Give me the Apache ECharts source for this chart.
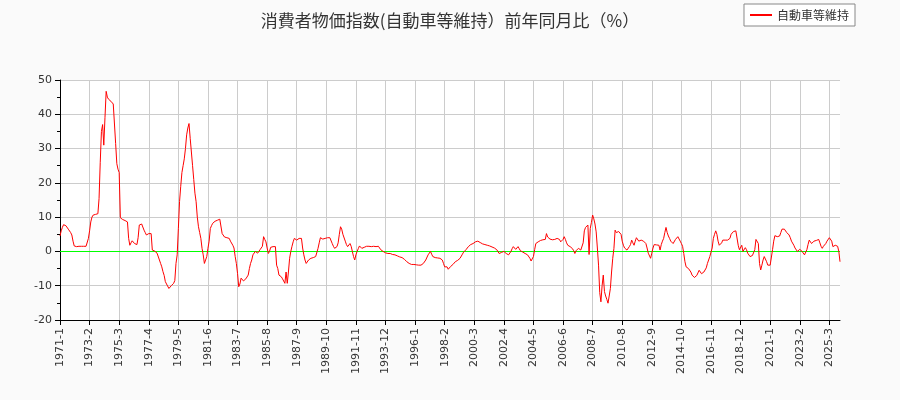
<!DOCTYPE html>
<html><head><meta charset="utf-8">
<script src="https://cdn.jsdelivr.net/npm/echarts@6/dist/echarts.min.js"></script>
<style>body{margin:0;background:#fafafa}#c{width:900px;height:400px}</style>
</head><body><div id="c"></div>
<script>
const title = '消費者物価指数(自動車等維持）前年同月比（%）';
const seriesName = '自動車等維持';
const startYear = 1971;
const yTicks = [-20, -10, 0, 10, 20, 30, 40, 50];
const v1971 = [4.5,6,7,7.8,8,7.5,7,6.5,6,5.5,4.8,3];
const v1972 = [1.6,1.5,1.4,1.4,1.5,1.4,1.5,1.4,1.5,1.4,1.5,1.4];
const v1973 = [3.8,6,8.6,10,10.6,10.6,10.8,11,11,15.4,26,35];
const v1974 = [37,31,39,46.7,45,44.4,44,43.8,43.5,43,42.6,31.5];
const v1975 = [25.6,24,23,9.8,9.5,9.3,9.1,9,8.8,8.6,3.8,1.8];
const v1976 = [2.5,3.1,2.8,2.3,2,2,4,7.7,8,8,8,6.2];
const v1977 = [5.5,4.8,5,5.2,5.2,5.2,0.4,0.2,0.1,0,-0.5,-1];
const v1978 = [-2.5,-3.5,-4.5,-5.9,-7,-8.8,-9.5,-10,-10.8,-10.5,-10,-9.5];
const v1979 = [-9.3,-8.5,-3.5,-1,6.7,14.5,19,23,25,27,30,34];
const v1980 = [36,37.3,33,29,25,21,17,14.5,10,7.2,5.5,3.8];
const v1981 = [0.9,-1,-3.5,-3.5,-1.5,0.9,3,6.7,7.5,8.2,8.5,8.8];
const v1982 = [9,9.1,9.3,9.4,9.4,5.2,4.8,4.2,4,4,3.8,3.8];
const v1983 = [3,2.5,1.8,1,-1.5,-3.5,-6.4,-10.3,-9.5,-7.8,-8.2,-8.6];
const v1984 = [-8.6,-8,-7.5,-6.9,-5,-3.5,-2.5,-1,-1,0,-0.5,-0.5];
const v1985 = [0,0.5,0.9,1.5,4.3,3.5,2.8,1,-0.6,0,1.2,1.3];
const v1986 = [1.4,1.4,1.4,-4,-5,-6.9,-7,-7.4,-8,-8.5,-9.3,-6];
const v1987 = [-9.3,-6,-2,0,1.5,2.8,3.8,3.5,3.3,3.5,3.8,3.8];
const v1988 = [3.8,1,-1,-2.5,-3.5,-3,-2.5,-2.2,-2,-2,-1.8,-1.5];
const v1989 = [-1.5,-1,0.9,2.5,4,3.8,3.6,3.6,3.8,4,4,3.8];
const v1990 = [4,3.5,2.3,1.5,0.9,1.2,1.4,2.5,5,7.2,6.5,5];
const v1991 = [4.8,3,2,1.4,1.5,2.3,1.5,0,-1.5,-2.5,-1,0];
const v1992 = [0.8,1.6,1.2,0.9,0.9,1.2,1.4,1.5,1.6,1.5,1.5,1.4];
const v1993 = [1.5,1.5,1.4,1.4,1.5,1.5,1,0.5,0,0,-0.2,-0.4];
const v1994 = [-0.5,-0.6,-0.6,-0.6,-0.8,-0.9,-1,-1,-1.1,-1.3,-1.5,-1.6];
const v1995 = [-1.7,-1.8,-2,-2.3,-2.6,-3,-3.3,-3.5,-3.7,-3.8,-3.8,-3.8];
const v1996 = [-3.8,-3.9,-4,-4,-4,-4,-3.8,-3.5,-3,-2.5,-2,-1];
const v1997 = [-0.5,0,-0.8,-1.5,-1.6,-1.8,-1.8,-1.9,-2,-2,-2,-2.5];
const v1998 = [-3.5,-4.5,-4,-4.5,-5.2,-4.8,-4.4,-4,-3.8,-3.5,-3,-2.8];
const v1999 = [-2.6,-2.5,-2,-1.5,-0.8,-0.2,0,0.5,1,1.4,1.8,2];
const v2000 = [2.2,2.3,2.3,2.8,3,3,2.8,2.6,2.4,2.2,2,2];
const v2001 = [1.9,1.8,1.7,1.6,1.5,1.3,1.1,1,0.9,0.5,0,-0.6];
const v2002 = [-0.6,-0.3,-0.2,0,-0.3,-0.6,-0.8,-1,-0.5,0,0.8,1.4];
const v2003 = [1,0.6,0.5,1.4,0.8,0.2,-0.3,-0.2,-0.3,-0.6,-0.8,-1];
const v2004 = [-1.5,-2,-2.8,-2.6,-1.5,0.5,2.3,2.6,2.8,3.1,3.2,3.3];
const v2005 = [3.4,3.5,3.5,5.2,4.2,3.8,3.6,3.5,3.4,3.3,3.5,3.6];
const v2006 = [3.8,4,3.5,2.8,2.5,3.5,4.3,3.5,2.5,1.8,1.5,1.4];
const v2007 = [1.4,0.8,0.2,-0.6,0.2,0.5,0.9,0.6,0.4,0.4,2.5,6];
const v2008 = [7,7.3,7.7,-0.9,6.7,8.5,10.6,9.5,8,5.7,1,-4];
const v2009 = [-12,-14.7,-10,-6.9,-11.7,-13,-14,-15.1,-13,-10.8,-6,-2];
const v2010 = [0.9,6.2,5.5,5.2,5.8,6.2,5,3,1.8,1,0.6,0.4];
const v2011 = [0.8,1.4,2,3.3,2.5,1.8,3,4,3.5,3,2.8,3.3];
const v2012 = [3.2,3,2.6,2.3,1,-0.5,-1,-2,-0.5,1,2,2];
const v2013 = [1.9,1.8,1.8,0.4,2,3,3.8,5.5,7,5.5,4.5,3.8];
const v2014 = [3,2.5,2.3,2.8,3.5,3.8,4.3,3.8,3,2.3,1.5,-0.6];
const v2015 = [-3,-4.5,-4.8,-5,-5.5,-6,-6.9,-7.3,-7.6,-7.9,-7,-6.5];
const v2016 = [-5.5,-6,-6.5,-6.7,-6,-5.5,-4.8,-3.5,-2.5,-1.5,-1,1];
const v2017 = [3.8,5,6,5,3,1.8,2,2.5,3.3,3,3.3,3.5];
const v2018 = [3.3,3,3.8,5,5.2,5.8,6,6,5.5,1.8,0.5,0];
const v2019 = [1.8,0,0.5,1.1,0.5,-0.5,-1,-1.5,-1,-1.2,-1,0.5];
const v2020 = [3.5,3,2.3,-3.5,-5.4,-4,-2.5,-1.5,-1.5,-3,-4,-4];
const v2021 = [-4,-4,0.5,3,4.6,4.4,4.3,4.3,4.5,5.5,6.5,7];
const v2022 = [6.5,6,5.5,5,4.8,4,3,2.5,1.8,1,0.5,0];
const v2023 = [0.3,0.6,0.9,0,-0.5,-1,-0.5,0.5,2,3.3,3,2.3];
const v2024 = [2.5,3,3.3,3.2,3.4,3.5,2.5,1.5,0.9,1.5,2,2.3];
const v2025 = [3,3.5,4,3.8,3,1.4,1.6,1.8,1.8,1.5,0,-3];

const years = [v1971,v1972,v1973,v1974,v1975,v1976,v1977,v1978,v1979,v1980,v1981,v1982,v1983,v1984,v1985,v1986,v1987,v1988,v1989,v1990,v1991,v1992,v1993,v1994,v1995,v1996,v1997,v1998,v1999,v2000,v2001,v2002,v2003,v2004,v2005,v2006,v2007,v2008,v2009,v2010,v2011,v2012,v2013,v2014,v2015,v2016,v2017,v2018,v2019,v2020,v2021,v2022,v2023,v2024,v2025];
const categories = [], values = [];
years.forEach((arr, yi) => arr.forEach((v, mi) => { categories.push((startYear + yi) + '-' + (mi + 1)); values.push(v); }));

const chart = echarts.init(document.getElementById('c'));
chart.setOption({
  backgroundColor: '#fafafa',
  animation: false,
  title: { text: title, left: 'center', top: 7, textStyle: { fontSize: 17, fontWeight: 'normal', color: '#333', fontFamily: 'Noto Sans CJK JP' } },
  legend: { right: 45, top: 4, data: [seriesName], backgroundColor: '#fff', borderColor: '#888', borderWidth: 1, borderRadius: 0, padding: [5, 6], itemWidth: 22, itemHeight: 2, icon: 'rect', textStyle: { fontSize: 12, color: '#333', fontFamily: 'Noto Sans CJK JP' } },
  grid: { left: 60, right: 60, top: 80, bottom: 80, show: true, backgroundColor: '#fff', borderWidth: 0 },
  xAxis: { type: 'category', data: categories, boundaryGap: false,
    axisLine: { onZero: false, lineStyle: { color: '#000' } },
    axisTick: { interval: 24, lineStyle: { color: '#000' } },
    axisLabel: { interval: 24, rotate: 90, fontSize: 11, color: '#333', fontFamily: 'DejaVu Sans' },
    splitLine: { show: true, interval: 24, lineStyle: { color: '#ccc' } } },
  yAxis: { type: 'value', min: yTicks[0], max: yTicks[yTicks.length - 1], interval: 10,
    axisLine: { show: true, lineStyle: { color: '#000' } }, axisTick: { show: true },
    minorTick: { show: true, splitNumber: 2 },
    axisLabel: { fontSize: 11, color: '#333', fontFamily: 'DejaVu Sans' },
    splitLine: { lineStyle: { color: '#ccc' } } },
  series: [{ name: seriesName, type: 'line', data: values, showSymbol: false, symbol: 'none', z: 3,
    lineStyle: { color: '#f00', width: 1 }, itemStyle: { color: '#f00' },
    markLine: { silent: true, symbol: ['none', 'none'], z: 2, label: { show: false }, lineStyle: { color: '#00ff00', type: 'solid', width: 1.2 }, data: [{ yAxis: 0, name: 'zero' }] } }]
});
</script></body></html>
